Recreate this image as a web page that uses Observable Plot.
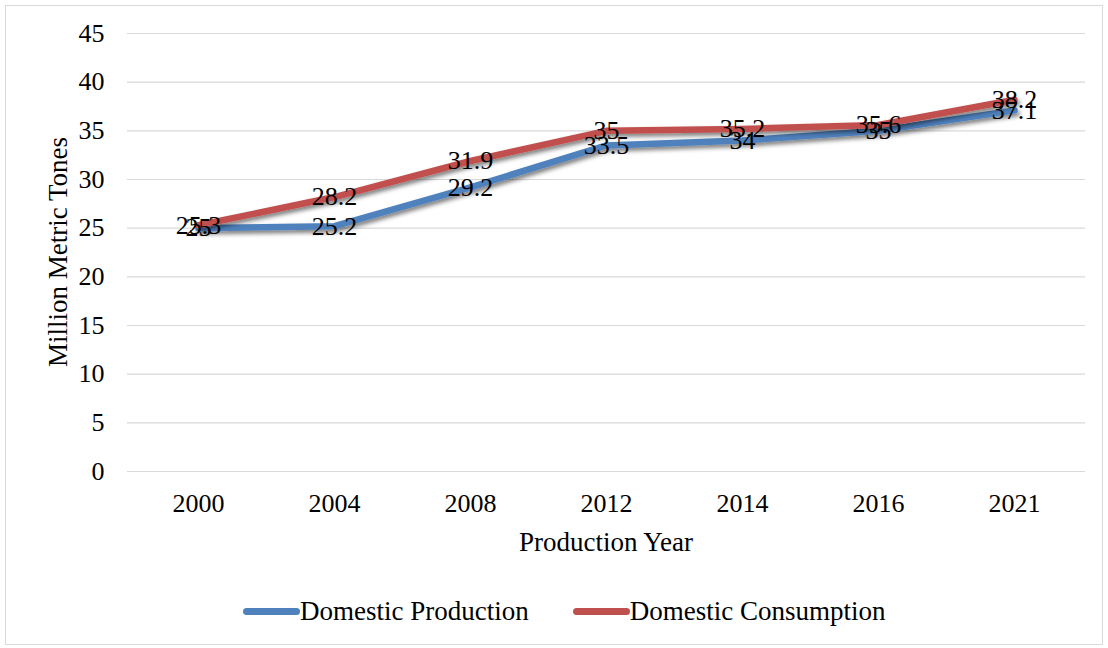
<!DOCTYPE html>
<html>
<head>
<meta charset="utf-8">
<script src="https://cdn.jsdelivr.net/npm/d3@7"></script>
<script src="https://cdn.jsdelivr.net/npm/@observablehq/plot@0.6"></script>
<style>
  html, body { margin: 0; padding: 0; background: #fff; }
  body { width: 1108px; height: 648px; position: relative; overflow: hidden;
         font-family: "Liberation Serif", "Times New Roman", serif; color: #000; }
  .frame { position: absolute; left: 5px; top: 5px; width: 1098px; height: 640px;
           box-sizing: border-box; border: 1px solid #d9d9d9; }
  #chart { position: absolute; left: 0; top: 0; }
  .title { position: absolute; font-size: 27px; line-height: 1; white-space: nowrap; }
  #xTitle { left: 606px; top: 542px; transform: translate(-50%, -50%); }
  #yTitle { left: 58px; top: 252px; transform: translate(-50%, -50%) rotate(-90deg); }
  .legend { position: absolute; left: 243px; top: 595px; height: 32px;
            display: flex; align-items: center; font-size: 27px; white-space: nowrap; }
  .legend .item { display: flex; align-items: center; }
  .legend .swatch { width: 57px; height: 7px; border-radius: 4px; }
  .legend .gap { width: 44px; }
</style>
</head>
<body>
<div class="frame"></div>
<div id="chart"></div>
<div class="title" id="xTitle"></div>
<div class="title" id="yTitle"></div>
<div class="legend" id="legend"></div>
<script>
// Sugar production and consumption, million metric tones
const years = ["2000", "2004", "2008", "2012", "2014", "2016", "2021"];
const production = [25, 25.2, 29.2, 33.5, 34, 35, 37.1];
const consumption = [25.3, 28.2, 31.9, 35, 35.2, 35.6, 38.2];
const yTicks = [0, 5, 10, 15, 20, 25, 30, 35, 40, 45];

const seriesNames = ["Domestic Production", "Domestic Consumption"];
const seriesColors = ["#4f81bd", "#c0504d"];
const xTitle = "Production Year";
const yTitle = "Million Metric Tones";

const prodRows = years.map((y, i) => ({year: y, value: production[i]}));
const consRows = years.map((y, i) => ({year: y, value: consumption[i]}));

const font = "Liberation Serif, Times New Roman, serif";

const chart = Plot.plot({
  width: 1108,
  height: 570,
  marginLeft: 127,
  marginRight: 23,
  marginTop: 33,
  marginBottom: 99,
  style: {fontFamily: font, fontSize: "26px", color: "#000", background: "transparent", overflow: "visible"},
  x: {type: "point", domain: years, padding: 0.5, tickSize: 0, tickPadding: 22, label: null},
  y: {domain: [0, 45], ticks: yTicks, tickSize: 0, tickPadding: 23, label: null},
  marks: [
    Plot.ruleY(yTicks, {stroke: "#d9d9d9", strokeWidth: 1.2}),
    Plot.line(prodRows, {x: "year", y: "value", stroke: seriesColors[0], strokeWidth: 6.5,
      strokeLinecap: "round", strokeLinejoin: "round"}),
    Plot.line(consRows, {x: "year", y: "value", stroke: seriesColors[1], strokeWidth: 6.5,
      strokeLinecap: "round", strokeLinejoin: "round"}),
    Plot.text(prodRows, {x: "year", y: "value", text: d => String(d.value), fill: "#000", fontSize: 26}),
    Plot.text(consRows, {x: "year", y: "value", text: d => String(d.value), fill: "#000", fontSize: 26})
  ]
});

// soft drop shadow under each series line
const svg = d3.select(chart);
const defs = svg.insert("defs", ":first-child");
const f = defs.append("filter").attr("id", "lineShadow")
  .attr("x", "-5%").attr("y", "-20%").attr("width", "110%").attr("height", "150%");
f.append("feDropShadow").attr("dx", 2).attr("dy", 3).attr("stdDeviation", 2)
  .attr("flood-color", "#000").attr("flood-opacity", 0.5);
svg.selectAll('g[aria-label="line"]').attr("filter", "url(#lineShadow)");

document.getElementById("chart").appendChild(chart);

// axis titles
document.getElementById("xTitle").textContent = xTitle;
document.getElementById("yTitle").textContent = yTitle;

// legend
const legend = d3.select("#legend");
seriesNames.forEach((name, i) => {
  if (i > 0) legend.append("div").attr("class", "gap");
  const item = legend.append("div").attr("class", "item");
  item.append("div").attr("class", "swatch").style("background", seriesColors[i]);
  item.append("span").text(name);
});
</script>
</body>
</html>
